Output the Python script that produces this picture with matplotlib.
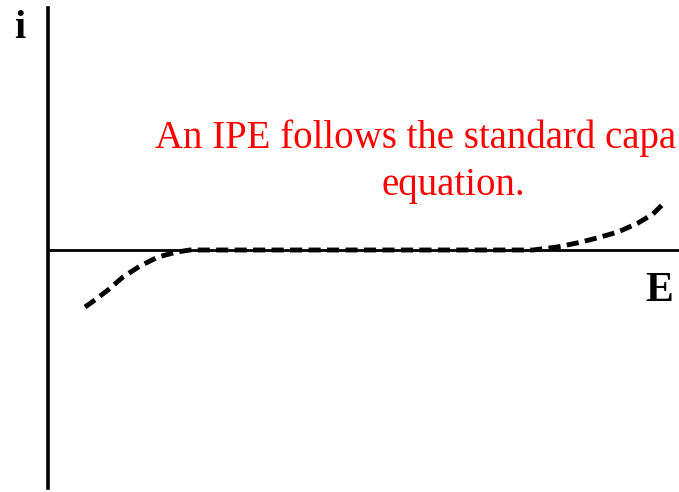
import matplotlib.pyplot as plt

# Current-potential sketch: E on the horizontal axis, i on the vertical one
E_curve = [85, 95, 108, 123, 140, 158, 177, 190, 520, 533, 557, 577, 597, 618, 638, 653, 666]
i_curve = [-57, -50, -40, -27, -16, -7, -2, 0, 0, 0, 3, 7, 12, 18, 27, 36, 49]

note_lines = ["An IPE follows the standard capa", "equation."]

fig = plt.figure(figsize=(6.79, 4.92), dpi=100)
ax = fig.add_axes([0, 0, 1, 1])
ax.set_xlim(0, 679)
ax.set_ylim(-242, 250)

# axes drawn through the origin of the sketch
for side in ("top", "right"):
    ax.spines[side].set_visible(False)
ax.spines["left"].set_position(("data", 48))
ax.spines["left"].set_bounds(-238, 242)
ax.spines["left"].set_linewidth(2.6)
ax.spines["bottom"].set_position(("data", 0))
ax.spines["bottom"].set_bounds(48, 679)
ax.spines["bottom"].set_linewidth(2.0)
ax.set_xticks([])
ax.set_yticks([])

ax.plot(E_curve, i_curve, color="black", lw=3.5,
        linestyle=(0, (2.5, 1.3)), solid_capstyle="butt")

ax.text(20, 221, "i", fontsize=29, fontweight="bold", family="Liberation Serif",
        ha="center", va="center")
ax.text(659, -41, "E", fontsize=30, fontweight="bold", family="Liberation Serif",
        ha="center", va="center")

# red note, first line runs to the right edge
fig.text(155 / 679, 1 - 148 / 492, note_lines[0], color="red", fontsize=28,
         family="Liberation Serif", ha="left", va="baseline")
fig.text(453 / 679, 1 - 195 / 492, note_lines[1], color="red", fontsize=28,
         family="Liberation Serif", ha="center", va="baseline")

fig.savefig("out.png", dpi=100)
